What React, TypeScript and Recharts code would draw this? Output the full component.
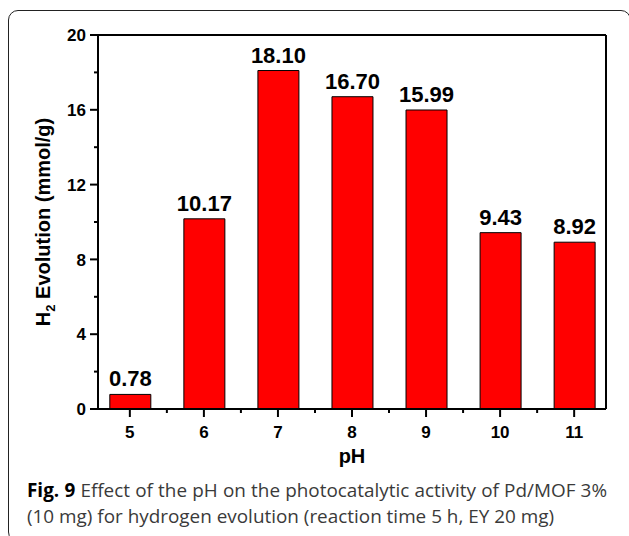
import React from 'react';
import { BarChart, Bar, XAxis, YAxis, LabelList } from 'recharts';

const phValues = [5, 6, 7, 8, 9, 10, 11];
const h2Evolution = [0.78, 10.17, 18.1, 16.7, 15.99, 9.43, 8.92];
const yTicks = [0, 2, 4, 6, 8, 10, 12, 14, 16, 18, 20];
const xTicks = [5, 5.5, 6, 6.5, 7, 7.5, 8, 8.5, 9, 9.5, 10, 10.5, 11];

const data = phValues.map((ph, i) => ({ ph, h2: h2Evolution[i] }));

const FONT = '"Liberation Sans", Arial, sans-serif';

const YTick = ({ x, y, payload }: any) => {
  const major = payload.value % 4 === 0;
  return (
    <g>
      <line x1={x - (major ? 8 : 4)} x2={x} y1={y} y2={y} stroke="#000" strokeWidth={2} />
      {major && (
        <text x={x - 12} y={y} dy="0.36em" textAnchor="end"
          fontFamily={FONT} fontWeight={700} fontSize={17} fill="#000">
          {payload.value}
        </text>
      )}
    </g>
  );
};

const XTick = ({ x, y, payload }: any) => {
  const major = Number.isInteger(payload.value);
  return (
    <g>
      <line x1={x} x2={x} y1={y} y2={y + (major ? 8 : 4)} stroke="#000" strokeWidth={2} />
      {major && (
        <text x={x} y={y + 29} textAnchor="middle"
          fontFamily={FONT} fontWeight={700} fontSize={17} fill="#000">
          {payload.value}
        </text>
      )}
    </g>
  );
};

const YTitle = ({ viewBox }: any) => {
  const cx = 50;
  const cy = viewBox.y + viewBox.height / 2;
  return (
    <text x={cx} y={cy} transform={`rotate(-90, ${cx}, ${cy})`} textAnchor="middle"
      fontFamily={FONT} fontWeight={700} fontSize={20} fill="#000">
      H<tspan fontSize={13} dy={5}>2</tspan>
      <tspan dy={-5}> Evolution (mmol/g)</tspan>
    </text>
  );
};

const XTitle = ({ viewBox }: any) => (
  <text x={viewBox.x + viewBox.width / 2} y={viewBox.y + 54} textAnchor="middle"
    fontFamily={FONT} fontWeight={700} fontSize={20} fill="#000">
    pH
  </text>
);

const captionStyle: React.CSSProperties = {
  position: 'absolute', left: 27, width: 580,
  fontFamily: '"Open Sans", sans-serif', fontSize: 18.9, lineHeight: '26px', color: '#3a3a3a',
  whiteSpace: 'nowrap',
};

export default function App() {
  return (
    <div style={{ position: 'absolute', left: 0, top: 0, width: 629, height: 536, overflow: 'hidden', background: '#fff' }}>
      <div style={{
        position: 'absolute', left: 8, top: 10, width: 623, height: 532,
        border: '1.5px solid #222', borderRadius: 10, boxSizing: 'border-box',
      }} />
      <div style={{ position: 'absolute', left: 0, top: 0 }}>
        <BarChart width={629} height={480} data={data}
          margin={{ top: 0, right: 0, bottom: 0, left: 0 }}>
          <XAxis dataKey="ph" type="number" domain={[4.57, 11.43]} ticks={xTicks} interval={0}
            height={71} tickSize={0} tickMargin={0} tickLine={false} tick={<XTick />}
            axisLine={{ stroke: '#000', strokeWidth: 2 }} allowDataOverflow
            label={{ content: <XTitle /> }} />
          <XAxis xAxisId="top" orientation="top" type="number" domain={[0, 1]} height={35}
            tick={false} tickLine={false} axisLine={{ stroke: '#000', strokeWidth: 2 }} />
          <YAxis type="number" domain={[0, 20]} ticks={yTicks} interval={0} width={98}
            tickSize={0} tickMargin={0} tickLine={false} tick={<YTick />}
            axisLine={{ stroke: '#000', strokeWidth: 2 }} allowDataOverflow
            label={{ content: <YTitle /> }} />
          <YAxis yAxisId="right" orientation="right" type="number" domain={[0, 1]} width={23}
            tick={false} tickLine={false} axisLine={{ stroke: '#000', strokeWidth: 2 }} />
          <Bar dataKey="h2" barSize={41} fill="#ff0000" stroke="#000" strokeWidth={1}
            isAnimationActive={false}>
            <LabelList dataKey="h2" position="top" offset={8}
              formatter={(v: any) => Number(v).toFixed(2)}
              fontFamily={FONT} fontWeight={700} fontSize={22} fill="#000" />
          </Bar>
        </BarChart>
      </div>
      <div style={{ ...captionStyle, top: 477, whiteSpace: 'normal', textAlign: 'justify', textAlignLast: 'justify' }}>
        <b style={{ color: '#000' }}>Fig. 9</b> Effect of the pH on the photocatalytic activity of Pd/MOF 3%
      </div>
      <div style={{ ...captionStyle, top: 503 }}>
        (10 mg) for hydrogen evolution (reaction time 5 h, EY 20 mg)
      </div>
    </div>
  );
}
